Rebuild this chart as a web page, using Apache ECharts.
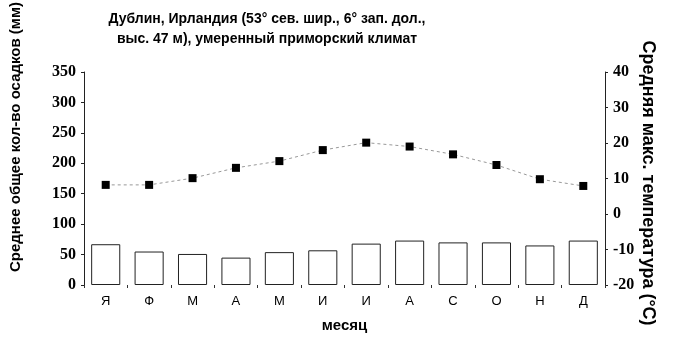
<!DOCTYPE html>
<html><head><meta charset="utf-8">
<script src="https://cdn.jsdelivr.net/npm/echarts@6/dist/echarts.min.js"></script>
<style>html,body{margin:0;padding:0;background:#fff}#c{width:677px;height:339px}</style>
</head><body><div id="c"></div>
<script>
var months = ['Я','Ф','М','А','М','И','И','А','С','О','Н','Д'];
var precip = [67, 55, 51, 45, 54, 57, 68, 73, 70, 70, 65, 73];
var tempMax = [8.2, 8.2, 10.1, 13.0, 14.9, 18.0, 20.1, 19.0, 16.8, 13.8, 9.8, 7.9];
var titleLines = ['Дублин, Ирландия (53° сев. шир., 6° зап. дол.,', 'выс. 47 м), умеренный приморский климат'];
var leftName = 'Среднее общее кол-во осадков (мм)';
var rightName = 'Средняя макс. температура (°C)';
var xName = 'месяц';

var sans = "'Liberation Sans',Arial,sans-serif";
var serif = "'Liberation Serif','Times New Roman',serif";
var chart = echarts.init(document.getElementById('c'), null, {renderer:'canvas'});
chart.setOption({
  animation: false,
  backgroundColor: '#fff',
  title: {
    text: titleLines.join('\n'),
    left: 262, top: 4, textAlign: 'center',
    textStyle: {fontFamily: sans, fontWeight: 'bold', fontSize: 14, lineHeight: 20, color: '#000'}
  },
  grid: {left: 84, right: 72, top: 72, bottom: 54},
  xAxis: {
    type: 'category', data: months,
    axisLine: {show: false},
    axisTick: {show: true, alignWithLabel: false, length: 3, lineStyle: {color: '#333'}},
    axisLabel: {fontFamily: sans, fontSize: 13, color: '#000', margin: 10},
    name: xName, nameLocation: 'middle', nameGap: 33,
    nameTextStyle: {fontFamily: sans, fontWeight: 'bold', fontSize: 15, color: '#000'}
  },
  yAxis: [{
    type: 'value', min: 0, max: 350, interval: 50,
    axisLine: {show: true, lineStyle: {color: '#222', width: 1}},
    axisTick: {show: true, length: 3, lineStyle: {color: '#222'}},
    splitLine: {show: false},
    axisLabel: {fontFamily: serif, fontWeight: 'bold', fontSize: 16, color: '#000', margin: 8}
  }, {
    type: 'value', min: -20, max: 40, interval: 10,
    axisLine: {show: true, lineStyle: {color: '#222', width: 1}},
    axisTick: {show: true, length: 3, lineStyle: {color: '#222'}},
    splitLine: {show: false},
    axisLabel: {fontFamily: serif, fontWeight: 'bold', fontSize: 16, color: '#000', margin: 8}
  }],
  series: [{
    type: 'bar', data: precip, yAxisIndex: 0, barCategoryGap: '33%',
    itemStyle: {color: '#fff', borderColor: '#222', borderWidth: 1}
  }, {
    type: 'line', data: tempMax, yAxisIndex: 1,
    symbol: 'rect', symbolSize: 8,
    itemStyle: {color: '#000'},
    lineStyle: {color: '#999', width: 1, type: [3, 3]}
  }],
  graphic: [{
    type: 'text', x: 16, y: 137, rotation: Math.PI/2,
    style: {text: leftName, fontFamily: sans, fontWeight: 'bold', fontSize: 15, fill: '#000', textAlign: 'center', textVerticalAlign: 'middle'}
  }, {
    type: 'text', x: 648, y: 183, rotation: -Math.PI/2,
    style: {text: rightName, fontFamily: sans, fontWeight: 'bold', fontSize: 18, fill: '#000', textAlign: 'center', textVerticalAlign: 'middle'}
  }]
});
</script></body></html>
